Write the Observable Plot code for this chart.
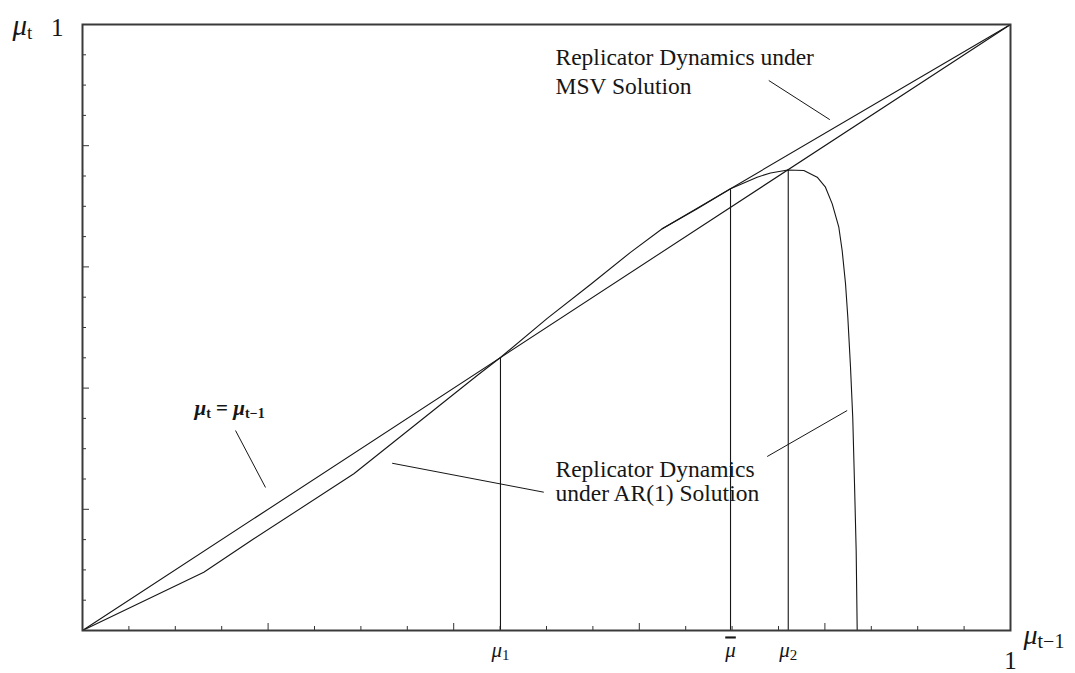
<!DOCTYPE html>
<html><head><meta charset="utf-8">
<script src="https://cdn.jsdelivr.net/npm/d3@7"></script>
<script src="https://cdn.jsdelivr.net/npm/@observablehq/plot@0.6"></script>
<style>body{margin:0;background:#fff} svg{display:block}</style>
</head><body><div id="chart"></div>
<script>
// ---- data ----
const minorTicks = [0.05,0.1,0.15,0.25,0.3,0.35,0.45,0.5,0.55,0.65,0.7,0.75,0.85,0.9,0.95];
const majorTicks = [0.2,0.4,0.6,0.8];
const diagX = [0, 1];
const diagY = [0, 1];
const ar1X = [0, 0.1307, 0.1846, 0.2924, 0.4253, 0.4504, 0.5008, 0.5474, 0.5905, 0.6247, 0.6624, 0.6983, 0.727, 0.7414, 0.760, 0.7773, 0.7917, 0.8006, 0.8079, 0.815, 0.8186, 0.8222, 0.8247, 0.8276, 0.830, 0.8319, 0.8337, 0.8348];
const ar1Y = [0, 0.0962, 0.1513, 0.2586, 0.4208, 0.4505, 0.515, 0.571, 0.624, 0.663, 0.696, 0.729, 0.748, 0.755, 0.760, 0.759, 0.748, 0.7315, 0.704, 0.6655, 0.627, 0.5726, 0.517, 0.4345, 0.352, 0.2426, 0.132, 0];
const msvX = [0.6247, 1];
const msvY = [0.663, 1];
const eqLabels = ["μ1", "μbar", "μ2"];
const eqX = [0.4504, 0.6983, 0.7605];
const eqY = [0.4505, 0.729, 0.7605];
const ptrX1 = [0.1649, 0.3337, 0.7378, 0.7395];
const ptrY1 = [0.330, 0.276, 0.2871, 0.9076];
const ptrX2 = [0.1972, 0.4971, 0.824, 0.8053];
const ptrY2 = [0.236, 0.2282, 0.363, 0.843];
const noteText = ["Replicator Dynamics\nunder AR(1) Solution", "Replicator Dynamics under\nMSV Solution"];
const noteX = [0.5097, 0.5097];
const noteY = [0.2129, 0.8845];
const noteLH = [1.04, 1.24];
const diagLabel = "μt = μt−1";
const diagLabelX = 0.1207, diagLabelY = 0.3548;

const pts = (X, Y) => X.map((x, i) => ({x, y: Y[i]}));
const ink = "#161616";
const serif = "'Liberation Serif', 'Times New Roman', serif";

const plot = Plot.plot({
  width: 1075, height: 673,
  marginLeft: 82, marginRight: 65, marginTop: 24, marginBottom: 43,
  x: {domain: [0, 1]}, y: {domain: [0, 1]},
  style: {fontFamily: serif, background: "#fff", color: ink},
  marks: [
    Plot.axisX(minorTicks, {tickSize: -4, tickFormat: () => "", stroke: "#333", label: null}),
    Plot.axisX(majorTicks, {tickSize: -7, tickFormat: () => "", stroke: "#333", label: null}),
    Plot.axisY(minorTicks, {tickSize: -4, tickFormat: () => "", stroke: "#333", label: null}),
    Plot.axisY(majorTicks, {tickSize: -7, tickFormat: () => "", stroke: "#333", label: null}),
    Plot.axisY([1], {tickSize: 0, tickPadding: 19, dy: 3, tickFormat: () => "one", label: null}),
    Plot.axisX([1], {tickSize: 0, tickPadding: 21, tickFormat: () => "one", label: null}),
    Plot.axisX(eqX, {tickSize: 0, tickPadding: 12, tickFormat: d => eqLabels[eqX.indexOf(d)], label: null}),
    Plot.line(pts(diagX, diagY), {x: "x", y: "y", stroke: ink, strokeWidth: 1.1}),
    Plot.line(pts(msvX, msvY), {x: "x", y: "y", stroke: ink, strokeWidth: 1.1}),
    Plot.line(pts(ar1X, ar1Y), {x: "x", y: "y", stroke: ink, strokeWidth: 1.1}),
    Plot.ruleX(pts(eqX, eqY), {x: "x", y1: 0, y2: "y", stroke: ink, strokeWidth: 1.1}),
    Plot.link(ptrX1.map((x, i) => ({x1: x, y1: ptrY1[i], x2: ptrX2[i], y2: ptrY2[i]})), {x1: "x1", y1: "y1", x2: "x2", y2: "y2", stroke: ink, strokeWidth: 1}),
    ...noteText.map((t, i) => Plot.text([t], {x: () => noteX[i], y: () => noteY[i], text: d => d, textAnchor: "start", lineAnchor: "bottom", lineHeight: noteLH[i], fontSize: 23.5, fill: ink})),
    Plot.text([diagLabel], {x: () => diagLabelX, y: () => diagLabelY, text: d => d, textAnchor: "start", lineAnchor: "bottom", fontSize: 21, fontWeight: "bold", fill: ink}),
    Plot.text(["μt"], {frameAnchor: "top-left", dx: -70, dy: 10, text: d => d, textAnchor: "start", lineAnchor: "bottom", fontSize: 29, fill: ink}),
    Plot.text(["μt−1"], {frameAnchor: "bottom-right", dx: 13, dy: 13, text: d => d, textAnchor: "start", lineAnchor: "bottom", fontSize: 28, fill: ink}),
    Plot.frame({stroke: "#3a3a3a", strokeWidth: 2})
  ]
});
document.getElementById("chart").append(plot);

// subscripts & italics for math labels
const NS = "http://www.w3.org/2000/svg";
function mathify(el, size, parts) {
  el.textContent = "";
  el.setAttribute("font-size", size);
  el.setAttribute("fill", ink);
  let shift = 0;
  for (const [str, kind, sz, deco] of parts) {
    const ts = document.createElementNS(NS, "tspan");
    ts.textContent = str;
    const target = kind === "sub" ? Math.round(size * 0.15) : 0;
    if (target !== shift) { ts.setAttribute("dy", target - shift); shift = target; }
    if (kind === "it") ts.setAttribute("font-style", "italic");
    if (sz) ts.setAttribute("font-size", sz);
    if (deco) ts.setAttribute("text-decoration", deco);
    el.appendChild(ts);
  }
}
plot.querySelectorAll("text").forEach(el => {
  const t = el.textContent;
  if (t === "μt") mathify(el, 29, [["μ", "it"], ["t", "sub", 19]]);
  else if (t === "μt−1") mathify(el, 28, [["μ", "it"], ["t−1", "sub", 20]]);
  else if (t === "μ1") mathify(el, 21, [["μ", "it"], ["1", "sub", 15]]);
  else if (t === "μ2") mathify(el, 21, [["μ", "it"], ["2", "sub", 15]]);
  else if (t === "μbar") mathify(el, 21, [["μ", "it", null, "overline"]]);
  else if (t === "one") mathify(el, 25, [["1", ""]]);
  else if (t === diagLabel) mathify(el, 21, [["μ", "it"], ["t", "sub", 14], [" = ", "", null], ["μ", "it"], ["t−1", "sub", 14]]);
});
</script>
</body></html>
